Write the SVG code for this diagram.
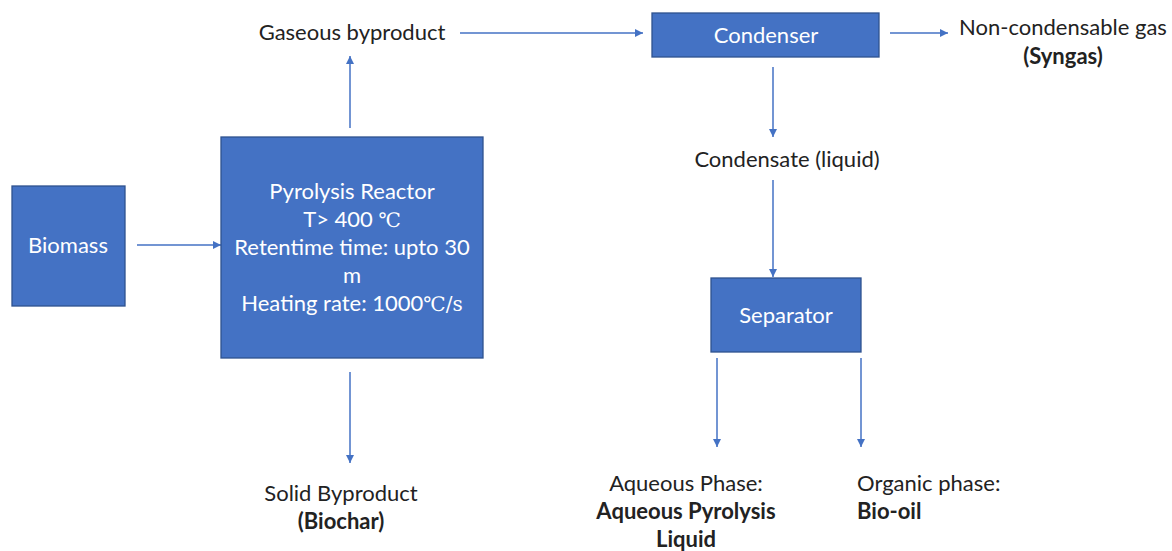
<svg xmlns="http://www.w3.org/2000/svg" width="1172" height="551" viewBox="0 0 1172 551">
<defs>
<marker id="ah" viewBox="0 0 10 10" refX="10" refY="5" markerWidth="8" markerHeight="8" markerUnits="userSpaceOnUse" orient="auto">
<path d="M0,0 L10,5 L0,10 z" fill="#4472C4"/>
</marker>
<style>
.box{fill:#4472C4;stroke:#2F528F;stroke-width:1.3}
.t{font-family:Lato,"Open Sans",sans-serif;font-size:22px;fill:#222}
.w{fill:#fff;text-anchor:middle}
.c{text-anchor:middle}
.b{font-weight:bold}
.ln{stroke:#4472C4;stroke-width:1.5;fill:none;marker-end:url(#ah)}
.sym{font-family:"DejaVu Serif","Liberation Serif",serif;font-size:20px}
</style>
</defs>
<rect width="1172" height="551" fill="#fff"/>
<g id="connectors">
<line class="ln" x1="137" y1="245" x2="221" y2="245"/>
<line class="ln" x1="350" y1="128" x2="350" y2="56"/>
<line class="ln" x1="350" y1="372" x2="350" y2="463"/>
<line class="ln" x1="460" y1="33" x2="643" y2="33"/>
<line class="ln" x1="890" y1="33" x2="948" y2="33"/>
<line class="ln" x1="773" y1="67" x2="773" y2="137"/>
<line class="ln" x1="773" y1="180" x2="773" y2="277"/>
<line class="ln" x1="717" y1="358" x2="717" y2="447"/>
<line class="ln" x1="861" y1="358" x2="861" y2="447"/>
</g>
<g id="biomass">
<rect class="box" x="12" y="186" width="113" height="120"/>
<text class="t w" x="68" y="253">Biomass</text>
</g>
<g id="reactor">
<rect class="box" x="221" y="137" width="262" height="221"/>
<text class="t w" x="352" y="199">Pyrolysis Reactor</text>
<text class="t w" x="352" y="227">T&gt; 400 <tspan class="sym">℃</tspan></text>
<text class="t w" x="352" y="255">Retentime time: upto 30</text>
<text class="t w" x="352" y="283">m</text>
<text class="t w" x="352" y="311">Heating rate: 1000<tspan class="sym">℃/s</tspan></text>
</g>
<g id="gaseous">
<text class="t c" x="352" y="40">Gaseous byproduct</text>
</g>
<g id="condenser">
<rect class="box" x="652" y="13" width="227" height="44"/>
<text class="t w" x="766" y="43">Condenser</text>
</g>
<g id="syngas">
<text class="t c" x="1063" y="35">Non-condensable gas</text>
<text class="t c b" x="1063" y="64">(Syngas)</text>
</g>
<g id="condensate">
<text class="t c" x="787" y="167">Condensate (liquid)</text>
</g>
<g id="separator">
<rect class="box" x="711" y="278" width="150" height="74"/>
<text class="t w" x="786" y="323">Separator</text>
</g>
<g id="solid">
<text class="t c" x="341" y="501">Solid Byproduct</text>
<text class="t c b" x="341" y="529">(Biochar)</text>
</g>
<g id="aqueous">
<text class="t c" x="686" y="491">Aqueous Phase:</text>
<text class="t c b" x="686" y="519">Aqueous Pyrolysis</text>
<text class="t c b" x="686" y="547">Liquid</text>
</g>
<g id="organic">
<text class="t" x="857" y="491">Organic phase:</text>
<text class="t b" x="857" y="519">Bio-oil</text>
</g>
</svg>
